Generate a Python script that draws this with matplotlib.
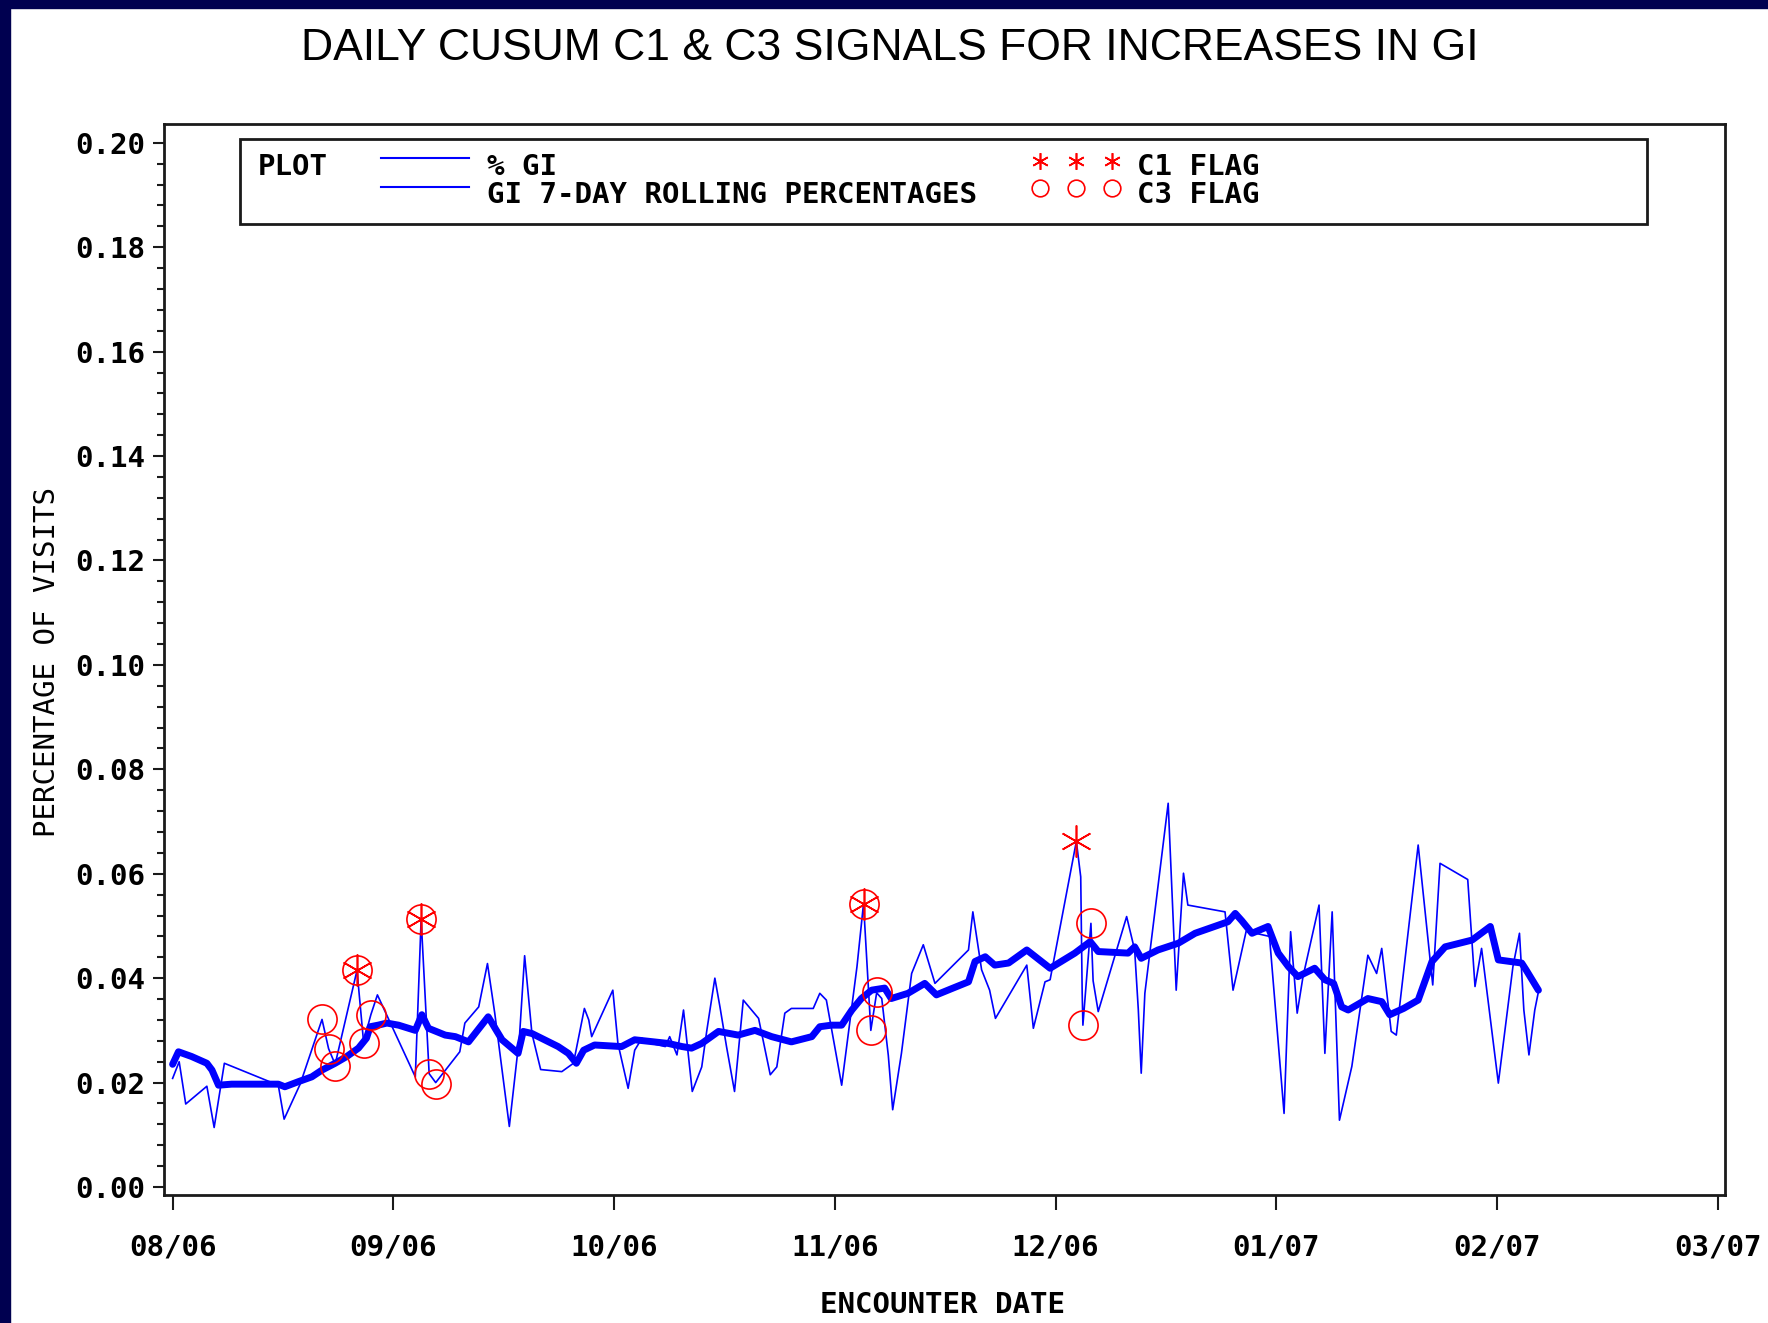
import numpy as np
import matplotlib
matplotlib.use("Agg")
import matplotlib.pyplot as plt
from matplotlib.ticker import MultipleLocator
from matplotlib.transforms import Affine2D
from matplotlib.patches import Rectangle
from matplotlib.lines import Line2D

W, H = 1768, 1323

# days counted from 08/01/06; the month ticks of the original are evenly spaced over 212 days
gi_days = [0.0, 0.9, 1.8, 4.7, 5.7, 7.1, 14.5, 15.3, 17.5, 20.5, 21.4, 22.3, 25.3, 26.2,
           27.2, 28.1, 33.3, 34.1, 35.2, 36.1, 39.4, 40.1, 42.0, 43.2, 44.2, 46.2, 47.6,
           48.3, 49.3, 50.5, 53.4, 55.0, 56.5, 57.1, 57.5, 60.4, 61.1, 62.5, 63.4, 64.4,
           65.7, 67.6, 68.2, 69.2, 70.1, 71.3, 72.6, 73.3, 74.4, 75.1, 76.0, 77.1, 78.3,
           80.4, 82.0, 82.9, 84.0, 84.9, 87.9, 88.8, 89.7, 91.8, 93.9, 94.8, 95.4, 95.8,
           96.6, 97.3, 98.2, 98.8, 100.0, 101.4, 103.0, 104.6, 109.2, 109.8, 111.0, 112.1,
           112.9, 117.2, 118.1, 119.7, 120.4, 124.0, 124.6, 124.8, 124.9, 126.0, 126.3,
           127.0, 130.9, 132.0, 132.5, 132.9, 133.4, 136.6, 137.7, 138.7, 139.3, 144.4,
           145.5, 147.3, 150.5, 152.5, 153.4, 154.3, 155.1, 157.3, 158.1, 159.1, 160.1,
           161.8, 164.0, 165.2, 165.9, 167.2, 167.9, 170.9, 172.9, 173.9, 177.7, 178.7,
           179.6, 181.9, 183.9, 184.8, 185.4, 186.1, 186.9, 187.4]
gi_pct = [0.0208, 0.0240, 0.0159, 0.0193, 0.0114, 0.0237, 0.0195, 0.0130, 0.0197, 0.0321,
          0.0265, 0.0235, 0.0415, 0.0278, 0.0330, 0.0368, 0.0211, 0.0513, 0.0217, 0.0200,
          0.0259, 0.0314, 0.0345, 0.0428, 0.0333, 0.0116, 0.0290, 0.0443, 0.0294, 0.0225,
          0.0221, 0.0237, 0.0342, 0.0320, 0.0288, 0.0377, 0.0275, 0.0189, 0.0262, 0.0285,
          0.0275, 0.0269, 0.0288, 0.0253, 0.0339, 0.0183, 0.0230, 0.0300, 0.0400, 0.0345,
          0.0269, 0.0183, 0.0358, 0.0323, 0.0215, 0.0230, 0.0333, 0.0342, 0.0342, 0.0371,
          0.0358, 0.0195, 0.0422, 0.0543, 0.0397, 0.0300, 0.0372, 0.0361, 0.0252, 0.0148,
          0.0256, 0.0409, 0.0464, 0.0390, 0.0454, 0.0527, 0.0416, 0.0377, 0.0323, 0.0425,
          0.0304, 0.0393, 0.0397, 0.0662, 0.0594, 0.0371, 0.0310, 0.0505, 0.0395, 0.0336,
          0.0518, 0.0454, 0.0340, 0.0218, 0.0371, 0.0735, 0.0377, 0.0601, 0.0540, 0.0527,
          0.0377, 0.0490, 0.0480, 0.0141, 0.0489, 0.0333, 0.0403, 0.0540, 0.0256, 0.0527,
          0.0128, 0.0231, 0.0444, 0.0409, 0.0457, 0.0298, 0.0291, 0.0655, 0.0387, 0.0620,
          0.0589, 0.0384, 0.0457, 0.0199, 0.0422, 0.0486, 0.0339, 0.0253, 0.0339, 0.0374]

roll_days = [0.0, 0.8, 2.6, 4.7, 5.4, 6.3, 8.1, 12.7, 14.5, 15.4, 17.3, 19.1, 20.5, 22.3,
             23.9, 25.5, 26.6, 27.1, 28.2, 29.4, 31.0, 33.3, 34.2, 35.1, 37.4, 38.8, 40.6,
             43.3, 45.2, 47.4, 48.1, 49.3, 52.9, 54.3, 55.4, 56.4, 57.9, 61.6, 63.4, 68.0,
             69.9, 71.2, 72.6, 74.9, 77.6, 79.9, 82.2, 84.9, 87.7, 88.8, 90.4, 91.8, 93.2,
             94.5, 95.9, 97.7, 98.6, 100.9, 103.2, 104.8, 106.9, 109.2, 110.1, 111.5, 112.8,
             114.7, 117.2, 120.4, 123.8, 125.9, 127.0, 131.1, 132.0, 132.9, 135.2, 138.0,
             140.3, 144.8, 145.8, 146.7, 148.1, 150.3, 151.7, 153.1, 154.4, 156.7, 158.1,
             159.3, 160.4, 161.3, 164.0, 165.9, 167.0, 168.9, 170.9, 172.8, 174.6, 178.3,
             180.8, 181.9, 185.1, 185.7, 187.4]
roll_pct = [0.0235, 0.0259, 0.0250, 0.0237, 0.0224, 0.0195, 0.0197, 0.0197, 0.0197, 0.0192,
            0.0202, 0.0211, 0.0224, 0.0237, 0.0250, 0.0266, 0.0285, 0.0307, 0.0310, 0.0314,
            0.0310, 0.0300, 0.0330, 0.0304, 0.0291, 0.0288, 0.0278, 0.0326, 0.0282, 0.0256,
            0.0298, 0.0294, 0.0269, 0.0256, 0.0237, 0.0262, 0.0272, 0.0269, 0.0282, 0.0275,
            0.0269, 0.0266, 0.0275, 0.0298, 0.0291, 0.0300, 0.0288, 0.0278, 0.0288, 0.0307,
            0.0310, 0.0310, 0.0339, 0.0361, 0.0377, 0.0381, 0.0361, 0.0371, 0.0390, 0.0368,
            0.0380, 0.0393, 0.0432, 0.0441, 0.0425, 0.0429, 0.0454, 0.0419, 0.0448, 0.0470,
            0.0451, 0.0448, 0.0460, 0.0438, 0.0454, 0.0467, 0.0486, 0.0508, 0.0524, 0.0510,
            0.0486, 0.0499, 0.0448, 0.0422, 0.0403, 0.0419, 0.0397, 0.0390, 0.0345, 0.0339,
            0.0361, 0.0355, 0.0330, 0.0342, 0.0358, 0.0432, 0.0460, 0.0473, 0.0499, 0.0435,
            0.0429, 0.0416, 0.0377]

c1_days = [25.3, 34.1, 94.8, 124.0]
c1_pct = [0.0415, 0.0513, 0.0543, 0.0662]
c3_days = [20.5, 21.4, 22.3, 25.3, 26.2, 27.2, 34.1, 35.2, 36.1, 94.8, 95.8, 96.6, 124.9, 126.0]
c3_pct = [0.0321, 0.0265, 0.0231, 0.0415, 0.0276, 0.0330, 0.0513, 0.0217, 0.0198, 0.0543,
          0.0300, 0.0373, 0.0310, 0.0505]

month_labels = ["08/06", "09/06", "10/06", "11/06", "12/06", "01/07", "02/07", "03/07"]
y_ticks = [0.00, 0.02, 0.04, 0.06, 0.08, 0.10, 0.12, 0.14, 0.16, 0.18, 0.20]

BLUE = "#0000ff"
RED = "#ff0000"
INK = "#1a1a1a"
MONO = "DejaVu Sans Mono"

fig = plt.figure(figsize=(W / 100, H / 100), dpi=100)
fig.patch.set_facecolor("white")

# dark frame on the left and top edges
fig.patches.append(Rectangle((0, 0), 10 / W, 1, transform=fig.transFigure, color="#000050", zorder=0))
fig.patches.append(Rectangle((0, 1 - 8 / H), 1, 8 / H, transform=fig.transFigure, color="#000050", zorder=0))

ax = fig.add_axes([163.5 / W, 1 - 1195 / H, (1725 - 163.5) / W, (1195 - 124) / H])

ax.plot(gi_days, gi_pct, color=BLUE, lw=1.2)
ax.plot(roll_days, roll_pct, color=BLUE, lw=5.0, solid_joinstyle="round", solid_capstyle="round")
ax.plot(c3_days, c3_pct, ls="none", marker="o", ms=21, mfc="none", mec=RED, mew=1.2)
ax.plot(c1_days, c1_pct, ls="none", marker=(6, 2, 0), ms=23, mec=RED, mew=1.2)

ax.set_xlim(-1.25, 213.0)
ax.set_ylim(-0.00153, 0.2036)

ax.set_xticks(np.linspace(0, 212, len(month_labels)))
ax.set_xticklabels(month_labels)
ax.set_yticks(y_ticks)
ax.set_yticklabels([f"{v:.2f}" for v in y_ticks])
ax.yaxis.set_minor_locator(MultipleLocator(0.004))

for lab in ax.get_xticklabels() + ax.get_yticklabels():
    lab.set_fontfamily(MONO)
    lab.set_fontweight("bold")
    lab.set_fontsize(21)

ax.tick_params(axis="y", which="major", length=8, width=1.5, pad=5, color=INK)
ax.tick_params(axis="y", which="minor", length=5, width=1.5, color=INK)
ax.tick_params(axis="x", which="major", length=10.5, width=1.5, pad=17, color=INK)

for sp in ax.spines.values():
    sp.set_linewidth(2)
    sp.set_color(INK)

fig.text(890 / W, 1 - 48 / H, "DAILY CUSUM C1 & C3 SIGNALS FOR INCREASES IN GI",
         family="Liberation Sans", fontsize=32, ha="center", va="center", color="black")
fig.text(943 / W, 1 - 1305 / H, "ENCOUNTER DATE", family=MONO, fontweight="bold",
         fontsize=21, ha="center", va="center")
fig.text(47 / W, 1 - 662 / H, "PERCENTAGE OF VISITS", family=MONO, fontsize=21,
         rotation=90, ha="center", va="center")

# legend box, placed in image pixels
pix = Affine2D().scale(1 / W, -1 / H).translate(0, 1) + fig.transFigure
fig.add_artist(Rectangle((240, 139), 1407, 85, transform=pix, fill=False, lw=2, ec=INK))
fig.add_artist(Line2D([381, 469], [158, 158], transform=pix, color=BLUE, lw=1.5))
fig.add_artist(Line2D([381, 469], [187, 187], transform=pix, color=BLUE, lw=1.5))
fig.add_artist(Line2D([1040, 1076, 1112], [161, 161, 161], transform=pix, ls="none",
                      marker=(6, 2, 0), ms=12, mec=RED, mew=1.2))
fig.add_artist(Line2D([1040, 1076, 1112], [188, 188, 188], transform=pix, ls="none",
                      marker="o", ms=12, mfc="none", mec=RED, mew=1.2))
legend_font = dict(family=MONO, fontweight="bold", fontsize=21, va="baseline", transform=pix)
fig.text(258, 175, "PLOT", **legend_font)
fig.text(487, 175, "% GI", **legend_font)
fig.text(487, 203, "GI 7-DAY ROLLING PERCENTAGES", **legend_font)
fig.text(1137, 175, "C1 FLAG", **legend_font)
fig.text(1137, 203, "C3 FLAG", **legend_font)

fig.savefig("out.png", dpi=100)
